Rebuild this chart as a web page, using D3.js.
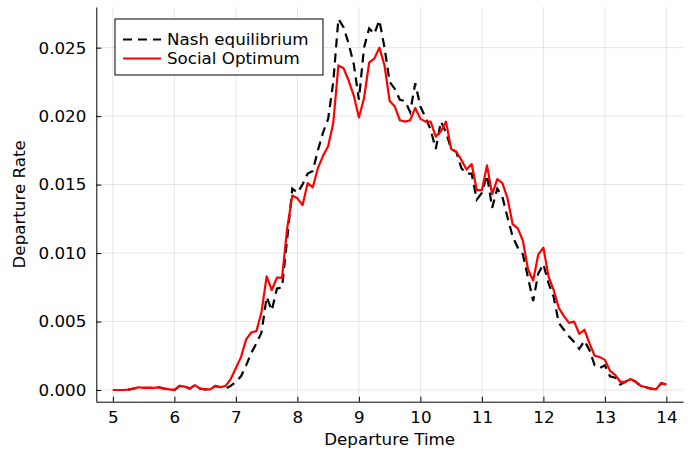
<!DOCTYPE html>
<html>
<head>
<meta charset="utf-8">
<script src="https://cdn.jsdelivr.net/npm/d3@7"></script>
<style>
  body { margin: 0; background: #fff; }
  text { font-family: "DejaVu Sans", sans-serif; }
</style>
</head>
<body>
<div class="chart"></div>
<script>
// departure grid: every 5 minutes from 5:00 to 14:00
const minutesAfterFive = d3.range(0, 541, 5);
const departureTime = minutesAfterFive.map(m => 5 + m / 60);

const nashRate = [
  0, 0, 0, 0.00003, 0.0001, 0.0002, 0.00015, 0.00015, 0.00015, 0.0002, 0.0001, 0.00005,
  0, 0.0003, 0.00025, 0.0001, 0.00035, 0.0001, 0.00005, 0.00005, 0.0003, 0.0002, 0.0001, 0.0003,
  0.0006, 0.0010, 0.0018, 0.0027, 0.0034, 0.0042, 0.0068, 0.0058, 0.0074, 0.0075, 0.0110, 0.0147,
  0.0144, 0.0150, 0.0158, 0.0160, 0.0175, 0.0188, 0.0198, 0.0225, 0.0271, 0.0265, 0.0253, 0.0238,
  0.0212, 0.0250, 0.0264, 0.0260, 0.0270, 0.0250, 0.0225, 0.0220, 0.0212, 0.0211, 0.0203, 0.0224,
  0.0207, 0.0199, 0.0190, 0.0176, 0.0196, 0.0188, 0.0176, 0.0174, 0.0162, 0.0158, 0.0158, 0.0139,
  0.0144, 0.0157, 0.0133, 0.0147, 0.0141, 0.0126, 0.0112, 0.0104, 0.0099, 0.0082, 0.0065, 0.0085,
  0.0092, 0.0078, 0.0068, 0.0049, 0.0044, 0.0039, 0.0035, 0.0030, 0.0036, 0.0029, 0.0018, 0.0016,
  0.0018, 0.0010, 0.0009, 0.0004, 0.0006, 0.0008, 0.0006, 0.0003, 0.0002, 0.0001, 0.00005, 0.0005, 0.0004
];

const socialRate = [
  0, 0, 0, 0.00003, 0.0001, 0.0002, 0.00015, 0.00015, 0.00015, 0.0002, 0.0001, 0.00005,
  0, 0.0003, 0.00025, 0.0001, 0.00035, 0.0001, 0.00005, 0.00005, 0.0003, 0.0002, 0.0003, 0.0008,
  0.0016, 0.0024, 0.0037, 0.0042, 0.0043, 0.0057, 0.0083, 0.0073, 0.0082, 0.0082, 0.0118, 0.0142,
  0.0140, 0.0135, 0.0151, 0.0148, 0.0162, 0.0171, 0.0178, 0.0195, 0.0237, 0.0235, 0.0226, 0.0215,
  0.0199, 0.0213, 0.0239, 0.0242, 0.0250, 0.0237, 0.0211, 0.0207, 0.0197, 0.0196, 0.0197, 0.0206,
  0.0198, 0.0196, 0.0196, 0.0185, 0.0189, 0.0196, 0.0176, 0.0174, 0.0168, 0.0161, 0.0165, 0.0146,
  0.0146, 0.0164, 0.0143, 0.0154, 0.0151, 0.0140, 0.0121, 0.0118, 0.0109, 0.0088, 0.0080, 0.0099,
  0.0104, 0.0083, 0.0073, 0.0060, 0.0054, 0.0049, 0.0050, 0.0041, 0.0044, 0.0034, 0.0025, 0.0024,
  0.0022, 0.0014, 0.0011, 0.0006, 0.0006, 0.0008, 0.0006, 0.0003, 0.0002, 0.0001, 0.00005, 0.0005, 0.0004
];

const xTicks = [5, 6, 7, 8, 9, 10, 11, 12, 13, 14];
const yTicks = [0, 0.005, 0.010, 0.015, 0.020, 0.025];
const seriesNames = ["Nash equilibrium", "Social Optimum"];

const width = 696;
const height = 452;
const margin = {top: 7, right: 13, bottom: 50.3, left: 96.3};
const plotW = width - margin.left - margin.right;
const plotH = height - margin.top - margin.bottom;
const fontSize = 16.7;
const dash = "9,6";

const x = d3.scaleLinear().domain([4.73, 14.27]).range([0, plotW]);
const y = d3.scaleLinear().domain([-0.000855, 0.02797]).range([plotH, 0]);

const svg = d3.select(".chart").append("svg")
    .attr("width", width)
    .attr("height", height);

svg.append("defs").append("clipPath").attr("id", "plot-clip")
  .append("rect").attr("width", plotW).attr("height", plotH);

const graph = svg.append("g")
    .attr("transform", `translate(${margin.left}, ${margin.top})`);

// grid lines
graph.append("g").selectAll("line.gx")
  .data(xTicks).enter().append("line")
    .attr("x1", d => x(d)).attr("x2", d => x(d))
    .attr("y1", 0).attr("y2", plotH)
    .attr("stroke", "#000").attr("stroke-opacity", 0.1).attr("stroke-width", 1);
graph.append("g").selectAll("line.gy")
  .data(yTicks).enter().append("line")
    .attr("x1", 0).attr("x2", plotW)
    .attr("y1", d => y(d)).attr("y2", d => y(d))
    .attr("stroke", "#000").attr("stroke-opacity", 0.1).attr("stroke-width", 1);

// lines
const line = d3.line()
    .x((d, i) => x(departureTime[i]))
    .y(d => y(d));

const lines = graph.append("g").attr("clip-path", "url(#plot-clip)");
lines.append("path")
    .attr("d", line(nashRate))
    .attr("fill", "none")
    .attr("stroke", "#000")
    .attr("stroke-width", 2.2)
    .attr("stroke-dasharray", dash);
lines.append("path")
    .attr("d", line(socialRate))
    .attr("fill", "none")
    .attr("stroke", "#ff0000")
    .attr("stroke-width", 2.2)
    .attr("stroke-linejoin", "round");

// axes
const xAxis = graph.append("g")
    .attr("transform", `translate(0, ${plotH})`)
    .call(d3.axisBottom(x).tickValues(xTicks).tickFormat(d3.format("d"))
      .tickSizeInner(-5).tickSizeOuter(0).tickPadding(9.5));
const yAxis = graph.append("g")
    .call(d3.axisLeft(y).tickValues(yTicks).tickFormat(d3.format(".3f"))
      .tickSizeInner(-5).tickSizeOuter(0).tickPadding(10));

[xAxis, yAxis].forEach(a => {
  a.select(".domain").attr("stroke", "#000").attr("stroke-width", 1);
  a.selectAll(".tick line").attr("stroke", "#000").attr("stroke-width", 1);
  a.selectAll(".tick text")
    .attr("fill", "#000")
    .style("font-size", fontSize + "px")
    .style("font-family", "DejaVu Sans");
});

// axis titles
svg.append("text")
    .attr("x", margin.left + plotW / 2)
    .attr("y", 445)
    .attr("text-anchor", "middle")
    .style("font-size", fontSize + "px")
    .text("Departure Time");
svg.append("text")
    .attr("transform", `translate(24.5, ${margin.top + plotH / 2}) rotate(-90)`)
    .attr("text-anchor", "middle")
    .style("font-size", fontSize + "px")
    .text("Departure Rate");

// legend
const legend = svg.append("g").attr("transform", "translate(115, 19)");
legend.append("rect")
    .attr("width", 208).attr("height", 56)
    .attr("fill", "#fff").attr("stroke", "#000").attr("stroke-width", 1);
const legendStyles = [
  {stroke: "#000", dash: dash},
  {stroke: "#ff0000", dash: null}
];
seriesNames.forEach((name, i) => {
  const row = legend.append("g").attr("transform", `translate(0, ${20.5 + i * 19})`);
  row.append("line")
      .attr("x1", 8).attr("x2", 46)
      .attr("stroke", legendStyles[i].stroke)
      .attr("stroke-width", 2)
      .attr("stroke-dasharray", legendStyles[i].dash);
  row.append("text")
      .attr("x", 52).attr("y", 0)
      .attr("dy", "0.32em")
      .style("font-size", fontSize + "px")
      .text(name);
});
</script>
</body>
</html>
